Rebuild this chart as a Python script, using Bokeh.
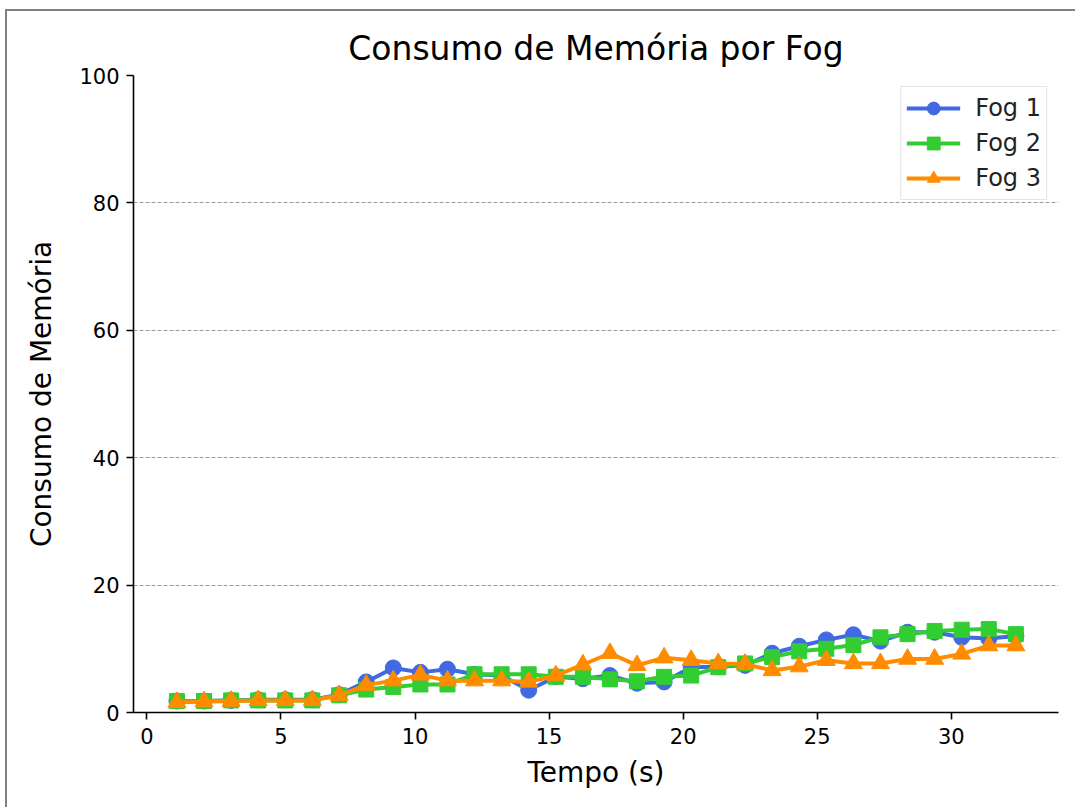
from bokeh.plotting import figure
from bokeh.models import Range1d, FixedTicker, Legend
from bokeh.embed import file_html
from bokeh.resources import INLINE

# Sample times (s)
tempo = [1.12, 2.13, 3.14, 4.15, 5.16, 6.17, 7.17, 8.18, 9.19, 10.20,
         11.21, 12.22, 13.23, 14.24, 15.25, 16.26, 17.27, 18.28, 19.29, 20.30,
         21.31, 22.31, 23.32, 24.33, 25.34, 26.35, 27.36, 28.37, 29.38, 30.39,
         31.40, 32.41]

# Memory usage per fog node
fog1 = [1.8, 1.8, 1.9, 2.0, 2.0, 2.0, 2.8, 4.8, 7.0, 6.3,
        6.8, 6.0, 5.8, 3.5, 5.6, 5.3, 5.8, 4.6, 4.8, 7.1,
        7.2, 7.4, 9.3, 10.4, 11.4, 12.2, 11.2, 12.6, 12.6, 11.8,
        11.6, 12.0]
fog2 = [1.8, 1.8, 1.9, 1.9, 1.9, 1.9, 2.7, 3.6, 4.0, 4.4,
        4.4, 6.0, 6.0, 6.0, 5.6, 5.6, 5.2, 4.9, 5.6, 5.8,
        7.1, 7.7, 8.7, 9.6, 10.0, 10.6, 11.8, 12.3, 12.8, 13.0,
        13.1, 12.3]
fog3 = [1.6, 1.7, 1.8, 1.9, 1.9, 1.9, 2.7, 4.3, 5.0, 5.9,
        5.0, 5.0, 5.0, 4.8, 5.8, 7.5, 9.3, 7.4, 8.6, 8.2,
        7.7, 7.6, 6.6, 7.2, 8.2, 7.7, 7.7, 8.4, 8.4, 9.2,
        10.5, 10.5]

series_names = ["Fog 1", "Fog 2", "Fog 3"]
series_values = [fog1, fog2, fog3]
series_colors = ["#4169E1", "#32CD32", "#FF8C00"]
series_markers = ["circle", "square", "triangle"]
marker_sizes = [16, 15, 18]

x_ticks = [0, 5, 10, 15, 20, 25, 30]
y_ticks = [0, 20, 40, 60, 80, 100]

FONT = "DejaVu Sans"

p = figure(
    frame_width=925, frame_height=637,
    min_border_left=126, min_border_right=17,
    min_border_top=64, min_border_bottom=95,
    x_range=Range1d(-0.5, 34.0), y_range=Range1d(0, 100),
    output_backend="svg", toolbar_location=None,
    title="Consumo de Memória por Fog",
    margin=(9, 0, 0, 5),
)
p.styles = {
    "border-left": "2px solid #808080",
    "border-top": "2px solid #808080",
    "border-right": "0px none",
    "border-bottom": "0px none",
}

p.title.text_font = FONT
p.title.text_font_size = "33px"
p.title.text_font_style = "normal"
p.title.align = "center"
p.title.text_color = "#000000"
p.title.standoff = 16

p.outline_line_color = None
p.background_fill_color = "white"
p.border_fill_color = "white"

for ax in (p.xaxis[0], p.yaxis[0]):
    ax.axis_line_color = "black"
    ax.axis_line_width = 1.6
    ax.major_tick_line_color = "black"
    ax.major_tick_line_width = 1.6
    ax.major_tick_in = 0
    ax.major_tick_out = 7
    ax.minor_tick_line_color = None
    ax.major_label_text_font = FONT
    ax.major_label_text_font_size = "21px"
    ax.major_label_text_color = "black"
    ax.axis_label_text_font = FONT
    ax.axis_label_text_font_size = "28px"
    ax.axis_label_text_font_style = "normal"
    ax.axis_label_text_color = "black"

p.xaxis.ticker = FixedTicker(ticks=x_ticks)
p.yaxis.ticker = FixedTicker(ticks=y_ticks)
p.xaxis.axis_label = "Tempo (s)"
p.yaxis.axis_label = "Consumo de Memória"
p.xaxis.major_label_standoff = 8
p.yaxis.major_label_standoff = 7
p.xaxis.axis_label_standoff = 9
p.yaxis.axis_label_standoff = 18

p.xgrid.grid_line_color = None
p.ygrid.grid_line_color = "#9a9a9a"
p.ygrid.grid_line_width = 1
p.ygrid.grid_line_dash = "4 2"
p.ygrid.ticker = FixedTicker(ticks=[20, 40, 60, 80, 100])

items = []
for name, vals, color, marker, size in zip(series_names, series_values,
                                           series_colors, series_markers, marker_sizes):
    r_line = p.line(tempo, vals, line_color=color, line_width=4)
    r_pts = p.scatter(tempo, vals, marker=marker, size=size,
                      fill_color=color, line_color=color, line_width=1)
    items.append((name, [r_line, r_pts]))

legend = Legend(items=items, location="top_right")
legend.label_text_font = FONT
legend.label_text_font_size = "24px"
legend.label_text_color = "#222222"
legend.glyph_width = 54
legend.glyph_height = 32
legend.label_height = 26
legend.label_standoff = 15
legend.spacing = 3
legend.padding = 5
legend.margin = 11
legend.border_line_color = "#cccccc"
legend.border_line_width = 1.2
legend.background_fill_color = "white"
legend.background_fill_alpha = 0.85
p.add_layout(legend)

open("out.html", "w").write(file_html(p, INLINE))
